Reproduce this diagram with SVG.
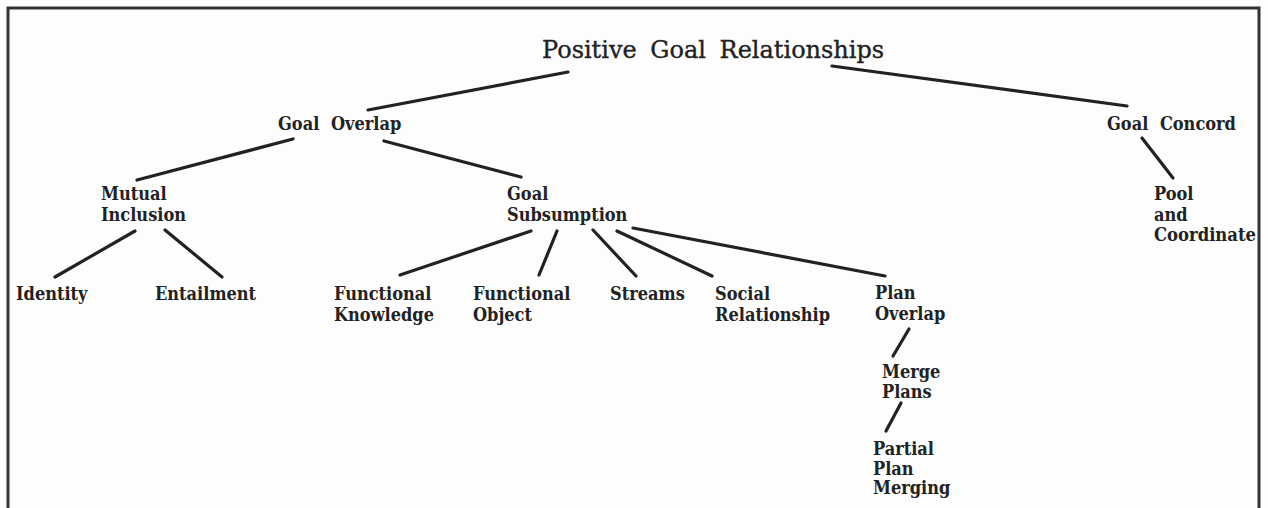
<svg xmlns="http://www.w3.org/2000/svg" width="1268" height="508" viewBox="0 0 1268 508">
<style>
.bg{fill:#fdfdfd}
.frame{fill:none;stroke:#333;stroke-width:3}
.lbl{font-family:"DejaVu Serif","Liberation Serif",serif;font-stretch:condensed;font-weight:bold;font-size:18px;fill:#222}
.title{font-family:"DejaVu Serif","Liberation Serif",serif;font-size:24px;fill:#222;stroke:#222;stroke-width:0.35;word-spacing:6px}
.edge{stroke:#222;stroke-width:3.2;stroke-linecap:round;fill:none}
</style>
<rect class="bg" x="0" y="0" width="1268" height="508"/>
<path class="frame" d="M8,508 V8 H1259 V508"/>
<g id="edges">
<line class="edge" x1="568" y1="72" x2="368" y2="110"/>
<line class="edge" x1="832" y1="66" x2="1127" y2="106"/>
<line class="edge" x1="293" y1="139" x2="137" y2="180"/>
<line class="edge" x1="384" y1="141" x2="521" y2="177"/>
<line class="edge" x1="1142" y1="138" x2="1173" y2="178"/>
<line class="edge" x1="135" y1="231" x2="55" y2="277"/>
<line class="edge" x1="165" y1="230" x2="222" y2="277"/>
<line class="edge" x1="531" y1="231" x2="400" y2="275"/>
<line class="edge" x1="557" y1="231" x2="539" y2="275"/>
<line class="edge" x1="593" y1="230" x2="636" y2="276"/>
<line class="edge" x1="617" y1="231" x2="712" y2="276"/>
<line class="edge" x1="633" y1="228" x2="885" y2="276"/>
<line class="edge" x1="909" y1="329" x2="893" y2="356"/>
<line class="edge" x1="901" y1="403" x2="886" y2="431"/>
</g>
<g id="n-root"><text class="title" x="542" y="58">Positive Goal Relationships</text></g>
<g id="n-goal-overlap"><text class="lbl" x="278" y="130" word-spacing="6">Goal Overlap</text></g>
<g id="n-goal-concord"><text class="lbl" x="1107" y="130" word-spacing="6">Goal Concord</text></g>
<g id="n-mutual-inclusion"><text class="lbl" x="101" y="200">Mutual</text><text class="lbl" x="101" y="221">Inclusion</text></g>
<g id="n-goal-subsumption"><text class="lbl" x="507" y="200">Goal</text><text class="lbl" x="507" y="221">Subsumption</text></g>
<g id="n-pool"><text class="lbl" x="1154" y="200">Pool</text><text class="lbl" x="1154" y="221">and</text><text class="lbl" x="1154" y="241" textLength="102" lengthAdjust="spacingAndGlyphs">Coordinate</text></g>
<g id="n-identity"><text class="lbl" x="16" y="300">Identity</text></g>
<g id="n-entailment"><text class="lbl" x="155" y="300">Entailment</text></g>
<g id="n-functional-knowledge"><text class="lbl" x="334" y="300">Functional</text><text class="lbl" x="334" y="321">Knowledge</text></g>
<g id="n-functional-object"><text class="lbl" x="473" y="300">Functional</text><text class="lbl" x="473" y="321">Object</text></g>
<g id="n-streams"><text class="lbl" x="610" y="300">Streams</text></g>
<g id="n-social"><text class="lbl" x="715" y="300">Social</text><text class="lbl" x="715" y="321">Relationship</text></g>
<g id="n-plan-overlap"><text class="lbl" x="875" y="299">Plan</text><text class="lbl" x="875" y="320">Overlap</text></g>
<g id="n-merge-plans"><text class="lbl" x="882" y="378">Merge</text><text class="lbl" x="882" y="398">Plans</text></g>
<g id="n-partial"><text class="lbl" x="873" y="455">Partial</text><text class="lbl" x="873" y="475">Plan</text><text class="lbl" x="873" y="494">Merging</text></g>
</svg>
